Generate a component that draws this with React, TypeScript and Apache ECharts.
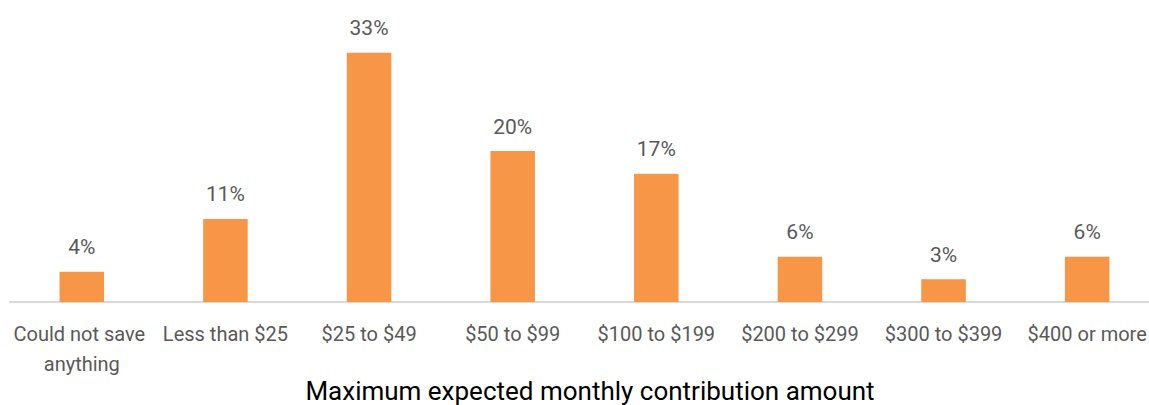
import React, { useEffect, useRef } from "react";
import * as echarts from "echarts";

const categories = [
  "Could not save anything",
  "Less than $25",
  "$25 to $49",
  "$50 to $99",
  "$100 to $199",
  "$200 to $299",
  "$300 to $399",
  "$400 or more",
];
const values = [4, 11, 33, 20, 17, 6, 3, 6];
const axisTitle = "Maximum expected monthly contribution amount";

export default function App() {
  const ref = useRef<HTMLDivElement>(null);
  useEffect(() => {
    if (!ref.current) return;
    const chart = echarts.init(ref.current, null, { renderer: "svg" });
    chart.setOption({
      animation: false,
      grid: {
        left: 10,
        right: -10,
        top: 0,
        bottom: 103,
        containLabel: false,
        outerBoundsMode: "none",
      },
      graphic: [
        {
          type: "text",
          x: 590,
          y: 391,
          style: {
            text: axisTitle,
            fill: "#000",
            fontFamily: "Roboto",
            fontSize: 26,
            align: "center",
            verticalAlign: "middle",
          },
        },
      ],
      xAxis: {
        type: "category",
        data: categories,
        axisLine: { lineStyle: { color: "#d9d9d9", width: 2 } },
        axisTick: { show: false },
        axisLabel: {
          interval: 0,
          color: "#595959",
          fontFamily: "Roboto",
          fontSize: 20,
          lineHeight: 30,
          margin: 17,
          width: 142,
          overflow: "break",
        },
      },
      yAxis: {
        type: "value",
        min: 0,
        max: 40,
        show: false,
        splitLine: { show: false },
      },
      series: [
        {
          type: "bar",
          data: values,
          barWidth: "31%",
          itemStyle: { color: "#F79646" },
          label: {
            show: true,
            position: "top",
            distance: 14,
            formatter: "{c}%",
            color: "#595959",
            fontFamily: "Roboto",
            fontSize: 21,
          },
        },
      ],
    });
    return () => chart.dispose();
  }, []);
  return (
    <div
      ref={ref}
      style={{ position: "fixed", left: 0, top: 0, width: 1149, height: 405, background: "#fff" }}
    />
  );
}
